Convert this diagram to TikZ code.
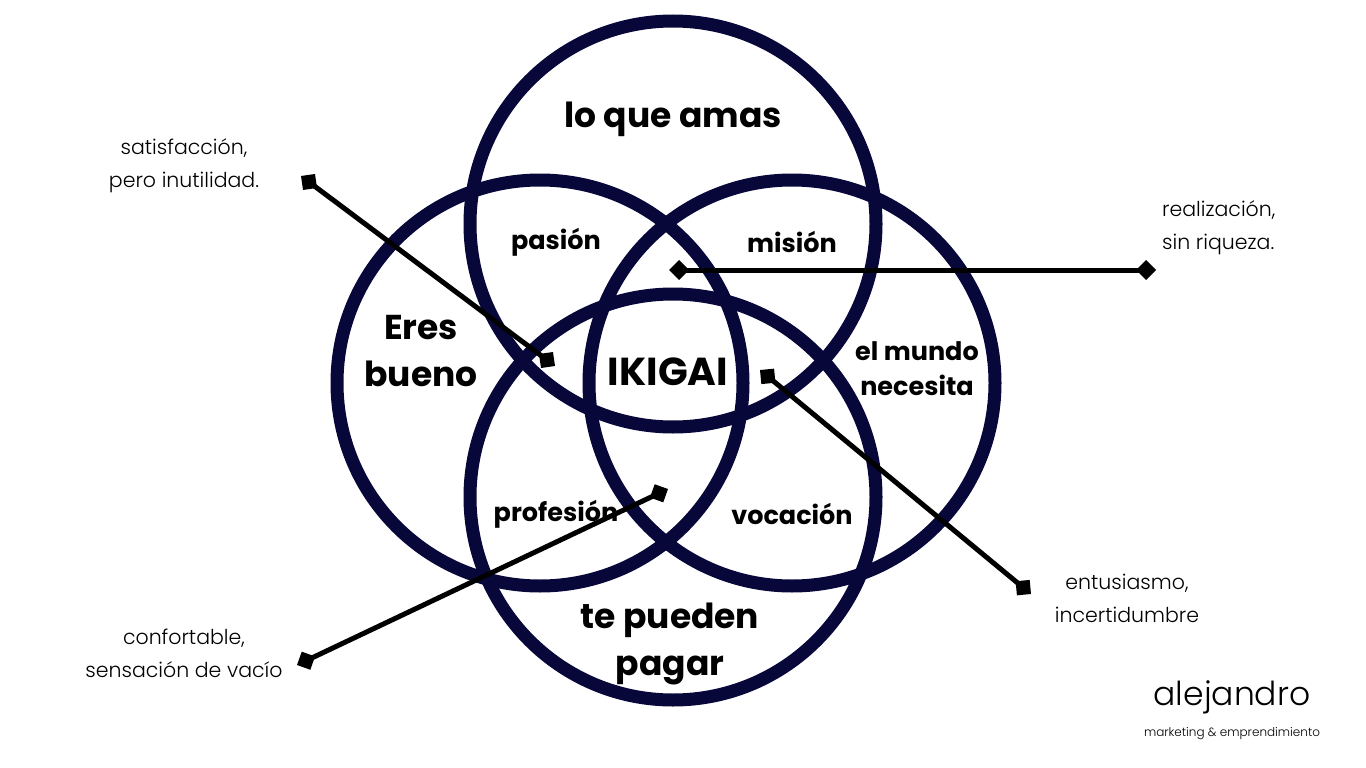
\documentclass[tikz,border=0pt]{standalone}
\usepackage{fontspec}
\setmainfont{Poppins}
\newfontfamily\lightfont{Poppins Light}
\usetikzlibrary{positioning,arrows.meta}
\definecolor{navy}{HTML}{07073A}

\begin{document}
\begin{tikzpicture}[x=1pt,y=-1pt,
  ring/.style={draw=navy,line width=13pt,circle,minimum size=406pt,inner sep=0pt},
  biglabel/.style={font=\fontsize{34.5}{47}\selectfont\bfseries,align=center,inner sep=0pt},
  zonelabel/.style={font=\fontsize{25.5}{35}\selectfont\bfseries,align=center,inner sep=0pt},
  remark/.style={font=\lightfont\fontsize{20.5}{33}\selectfont,align=center,inner sep=0pt},
  link/.style={line width=5pt,{Diamond[length=20pt,width=20pt]}-{Diamond[length=20pt,width=20pt]}}]
\useasboundingbox (0,0) rectangle (1366,768);
% the four circles
\node[ring] (love) at (673,224) {};
\node[ring] (good) at (540,383) {};
\node[ring] (world) at (792,383) {};
\node[ring] (paid) at (673,497) {};
% texts inside
\node[biglabel] (amas) at (673,119) {lo que amas};
\node[biglabel] (bueno) at (421,351) {Eres\\bueno};
\node[biglabel] (pagar) at (670,644) {te pueden\\pagar};
\node[zonelabel] (necesita) at (917,369) {el mundo\\necesita};
\node[zonelabel] (pasion) at (556,242) {pasión};
\node[zonelabel] (mision) at (792,242) {misión};
\node[zonelabel] (profesion) at (556,514) {profesión};
\node[zonelabel] (vocacion) at (792,514) {vocación};
\node[biglabel,font=\fontsize{39}{44}\selectfont\bfseries] (ikigai) at (668,372) {IKIGAI};
% side notes
\node[remark] (satis) at (184,166) {satisfacción,\\pero inutilidad.};
\node[remark,align=left,anchor=west] (realiz) at (1162,228) {realización,\\sin riqueza.};
\node[remark] (entus) at (1127,598) {entusiasmo,\\incertidumbre};
\node[remark] (confor) at (184,653) {confortable,\\sensación de vacío};
\coordinate (satA) at (301,176); \coordinate (satB) at (555,366);
\coordinate (realA) at (669,270); \coordinate (realB) at (1156,270);
\coordinate (entA) at (760,370); \coordinate (entB) at (1031,594);
\coordinate (conA) at (297,665); \coordinate (conB) at (668,489);
\draw[link] (satA) -- (satB);
\draw[link] (realA) -- (realB);
\draw[link] (entA) -- (entB);
\draw[link] (conA) -- (conB);
% signature
\node[font=\lightfont\fontsize{33}{36}\selectfont,inner sep=0pt] (name) at (1232,697) {alejandro};
\node[font=\lightfont\fontsize{12}{14}\selectfont,inner sep=0pt,below=22pt of name.base] (tagline) {marketing \& emprendimiento};
\end{tikzpicture}
\end{document}
